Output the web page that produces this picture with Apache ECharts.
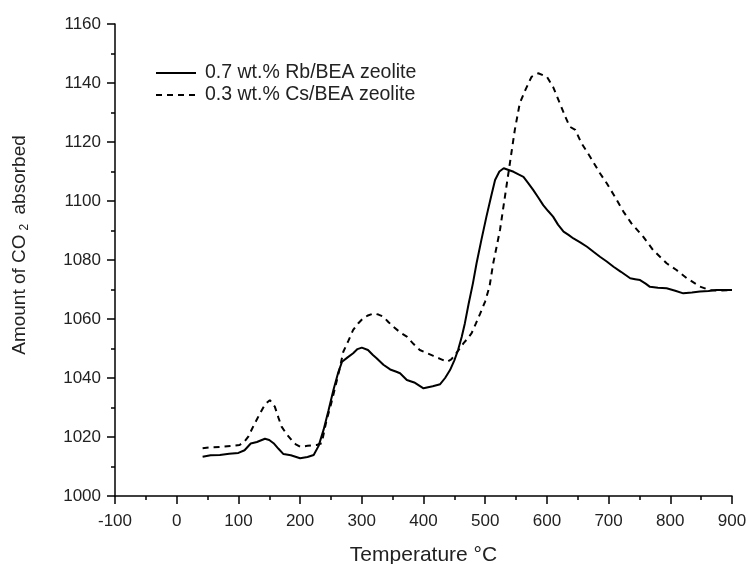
<!DOCTYPE html>
<html>
<head>
<meta charset="utf-8">
<script src="https://cdn.jsdelivr.net/npm/echarts@6/dist/echarts.min.js"></script>
<style>
  html, body { margin: 0; padding: 0; background: #fff; }
  #main { width: 748px; height: 564px; }
</style>
</head>
<body>
<div id="main"></div>
<script>
// 0.7 wt.% Rb/BEA  (solid)
var rbTemp = [42, 55, 70, 85, 100, 110, 120, 130, 143, 150, 157, 165, 173, 185, 200, 212, 222, 230, 238, 246,
  254, 262, 268, 277, 286, 293, 300, 310, 318, 324, 335, 346, 355, 362, 373, 385, 400, 415, 427, 435,
  443, 450, 456, 462, 467, 473, 480, 486, 494, 502, 509, 516, 523, 530, 538, 546, 554, 562, 570, 578,
  586, 594, 602, 610, 618, 627, 635, 643, 654, 665, 676, 686, 697, 708, 720, 735, 743, 751, 760, 767,
  780, 794, 808, 821, 835, 848, 862, 875, 888, 900];
var rbVal = [1013.3, 1013.8, 1013.9, 1014.3, 1014.6, 1015.5, 1017.8, 1018.3, 1019.4, 1019.0, 1017.9, 1016.0, 1014.2, 1013.8, 1012.8, 1013.2, 1013.9, 1017.0, 1022.4, 1029.0,
  1035.9, 1042.0, 1045.5, 1047.0, 1048.4, 1049.8, 1050.3, 1049.5, 1047.8, 1046.7, 1044.5, 1042.9, 1042.2, 1041.6, 1039.3, 1038.5, 1036.5, 1037.2, 1037.9, 1040.0,
  1042.7, 1046.0, 1049.5, 1054.0, 1058.5, 1065.0, 1072.0, 1078.9, 1087.0, 1094.7, 1101.0, 1107.1, 1110.0, 1111.1, 1110.5, 1109.9, 1109.0, 1108.2, 1106.0, 1103.7,
  1101.2, 1098.6, 1096.6, 1094.7, 1092.0, 1089.6, 1088.5, 1087.3, 1086.0, 1084.5, 1082.7, 1081.1, 1079.5, 1077.7, 1076.0, 1073.8, 1073.5, 1073.2, 1072.0, 1070.9,
  1070.6, 1070.4, 1069.6, 1068.7, 1069.0, 1069.3, 1069.5, 1069.8, 1069.8, 1069.8];

// 0.3 wt.% Cs/BEA  (dashed)
var csTemp = [42, 55, 75, 90, 102, 110, 116, 125, 135, 143, 151, 159, 165, 170, 178, 186, 193, 200, 212, 227,
  235, 243, 250, 257, 264, 270, 278, 286, 294, 302, 310, 319, 327, 335, 343, 351, 362, 373, 384, 394,
  405, 416, 427, 438, 445, 451, 458, 465, 472, 478, 485, 492, 500, 507, 513, 518, 524, 532, 540, 548,
  556, 565, 575, 586, 600, 610, 621, 630, 637, 646, 656, 670, 686, 697, 710, 724, 737, 756, 772, 794,
  810, 827, 848, 864, 880, 900];
var csVal = [1016.2, 1016.5, 1016.7, 1017.0, 1017.3, 1018.5, 1020.1, 1024.0, 1028.0, 1031.0, 1032.5, 1030.3, 1026.5, 1023.5, 1021.0, 1019.0, 1017.5, 1016.7, 1017.0, 1017.3,
  1017.9, 1025.8, 1031.0, 1037.0, 1043.0, 1048.9, 1052.5, 1056.3, 1058.5, 1060.2, 1061.2, 1061.9, 1061.5, 1060.8, 1059.0, 1057.4, 1055.5, 1054.0, 1051.5, 1049.5,
  1048.5, 1047.5, 1046.5, 1045.5, 1046.3, 1047.8, 1049.8, 1051.8, 1053.5, 1055.2, 1058.5, 1061.9, 1066.0, 1071.0, 1078.9, 1084.0, 1090.2, 1101.5, 1112.8, 1124.1,
  1133.1, 1137.6, 1142.1, 1143.3, 1142.1, 1138.7, 1133.1, 1128.5, 1125.2, 1124.1, 1119.6, 1115.0, 1109.4, 1106.0, 1101.5, 1096.4, 1092.4, 1087.9, 1083.4, 1078.9,
  1076.6, 1073.8, 1071.0, 1069.8, 1069.6, 1069.8];

var seriesNames = ['0.7 wt.% Rb/BEA zeolite', '0.3 wt.% Cs/BEA zeolite'];

function pairs(xs, ys) {
  var out = [];
  for (var i = 0; i < xs.length; i++) out.push([xs[i], ys[i]]);
  return out;
}

var font = 'Liberation Sans, Arial, sans-serif';
var myChart = echarts.init(document.getElementById('main'), null, { renderer: 'canvas' });
var option = {
  animation: false,
  backgroundColor: '#fff',
  textStyle: { fontFamily: font },
  grid: { left: 115, right: 16, top: 24, bottom: 68, containLabel: false, outerBoundsMode: 'none' },
  legend: {
    left: 150,
    top: 58,
    orient: 'vertical',
    itemWidth: 40,
    itemHeight: 14,
    itemGap: 2,
    data: seriesNames,
    itemStyle: { opacity: 0 },
    textStyle: { fontSize: 19.5, color: '#222', fontFamily: font, padding: [0, 0, 0, 4] }
  },
  xAxis: {
    type: 'value',
    min: -100,
    max: 900,
    interval: 100,
    name: 'Temperature °C',
    nameLocation: 'middle',
    nameGap: 49,
    nameTextStyle: { fontSize: 21, color: '#222', fontFamily: font },
    axisLine: { show: true, onZero: false, lineStyle: { color: '#000', width: 1.5 } },
    axisTick: { show: true, length: 8, lineStyle: { color: '#000', width: 1.5 } },
    minorTick: { show: true, splitNumber: 2, length: 4, lineStyle: { color: '#000', width: 1.5 } },
    axisLabel: { fontSize: 17, color: '#222', margin: 17, fontFamily: font, formatter: function (v) { return String(v); } },
    splitLine: { show: false }
  },
  yAxis: {
    type: 'value',
    min: 1000,
    max: 1160,
    interval: 20,
    name: 'Amount of CO{sub|2} absorbed',
    nameLocation: 'middle',
    nameGap: 84,
    nameTextStyle: {
      fontSize: 19, color: '#222', fontFamily: font,
      padding: [0, 0, 0, 30],
      rich: { sub: { fontSize: 12, color: '#222', fontFamily: font, padding: [10, 4, 0, 4] } }
    },
    axisLine: { show: true, onZero: false, lineStyle: { color: '#000', width: 1.5 } },
    axisTick: { show: true, length: 8, lineStyle: { color: '#000', width: 1.5 } },
    minorTick: { show: true, splitNumber: 2, length: 4, lineStyle: { color: '#000', width: 1.5 } },
    axisLabel: { fontSize: 17, color: '#222', margin: 14, fontFamily: font, formatter: function (v) { return String(v); } },
    splitLine: { show: false }
  },
  series: [
    {
      name: seriesNames[0],
      type: 'line',
      data: pairs(rbTemp, rbVal),
      symbol: 'none',
      lineStyle: { color: '#000', width: 2 },
      itemStyle: { color: '#000' }
    },
    {
      name: seriesNames[1],
      type: 'line',
      data: pairs(csTemp, csVal),
      symbol: 'none',
      lineStyle: { color: '#000', width: 2, type: [6, 5] },
      itemStyle: { color: '#000' }
    }
  ]
};
myChart.setOption(option);
</script>
</body>
</html>
